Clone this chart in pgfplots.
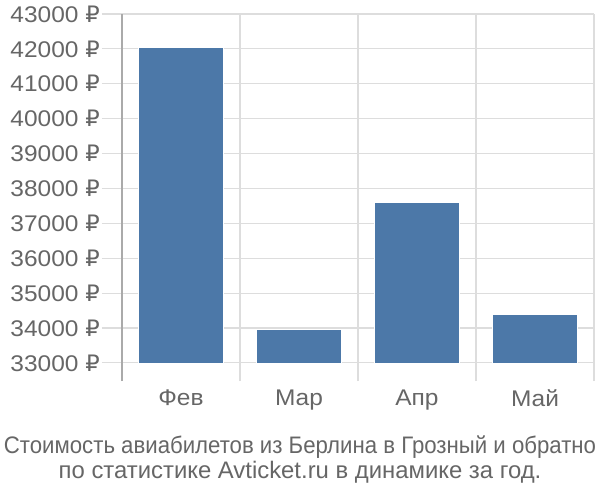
\documentclass[border=0pt]{standalone}
\usepackage{graphicx}
\usepackage{pgfplots}
\pgfplotsset{compat=1.18}
\usepackage{pgfplotstable}
\usepackage{fontspec}
\setmainfont{Liberation Sans}
\newfontfamily\tickfont[FakeStretch=1.08]{Liberation Sans}
\newfontfamily\rubfont{DejaVu Sans}

\definecolor{barblue}{HTML}{4C78A8}
\definecolor{txtgray}{HTML}{666666}
\definecolor{gridgray}{HTML}{DDDDDD}
\definecolor{axgray}{HTML}{AAAAAA}

\pgfplotstableread{
idx price
0 42050
1 33950
2 37610
3 34385
}\prices

\begin{document}
\begin{tikzpicture}
  % page = 600x500 px, 1px = 0.75pt, axis box sits at px (122,381)
  \useasboundingbox (-91.5pt,-89.25pt) rectangle (358.5pt,285.75pt);
  \begin{axis}[
    scale only axis,
    width=354pt, height=275.25pt,
    xmin=-0.5, xmax=3.5,
    ymin=32480, ymax=43000,
    axis lines*=left,
    x axis line style={draw=none},
    y axis line style={axgray, line width=0.9pt},
    xtick={-0.5,0.5,1.5,2.5,3.5},
    xticklabels={},
    xtick style={draw=none},
    xmajorgrids,
    ytick={33000,34000,...,43000},
    ymajorgrids,
    grid style={gridgray, line width=0.8pt},
    major tick length=15pt,
    tick align=outside,
    ytick style={gridgray, line width=0.8pt},
    scaled y ticks=false,
    yticklabel={\pgfmathprintnumber{\tick} {\rubfont ₽}},
    /pgf/number format/.cd, fixed, 1000 sep={}, assume math mode=true,
    /pgfplots/.cd,
    yticklabel style={font=\tickfont\fontsize{17}{19}\selectfont, text=txtgray,
      inner sep=0pt, xshift=-1.5pt},
    extra x ticks={0,1,2,3},
    extra x tick labels={Фев,Мар,Апр,Май},
    extra x tick style={grid=none, major tick length=0pt,
      tick label style={font=\tickfont\fontsize{17}{19}\selectfont, text=txtgray, yshift=-3pt}},
    ybar stacked,
    bar width=0.72,
  ]
    \addplot[draw=none, fill=none] table[x=idx, y expr=33000] {\prices};
    \addplot[fill=barblue, draw=white, line width=0.4pt] table[x=idx, y expr=\thisrow{price}-33000] {\prices};
  \end{axis}
  \node[text=txtgray, font=\fontsize{17.9}{18.75}\selectfont, align=center]
    at (133.5pt,-58.9pt) {\scalebox{0.93}[1]{Стоимость авиабилетов из Берлина в Грозный и обратно}\\по статистике Avticket.ru в динамике за год.};
\end{tikzpicture}
\end{document}
